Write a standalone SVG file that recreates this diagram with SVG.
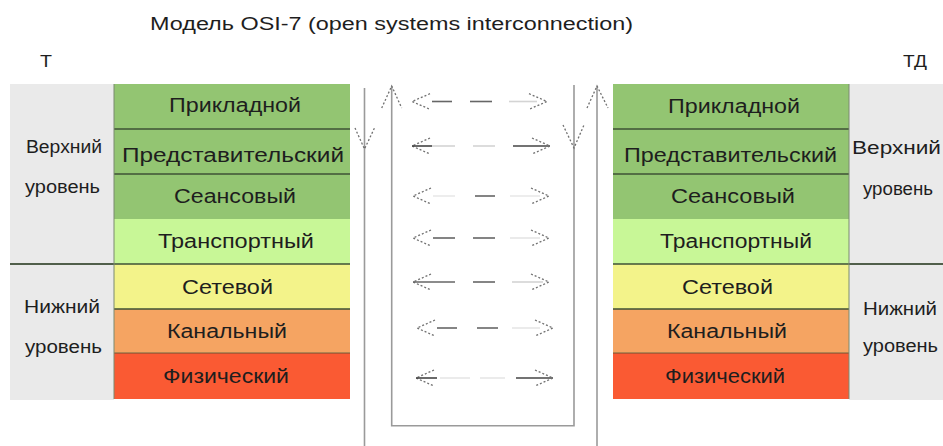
<svg xmlns="http://www.w3.org/2000/svg" width="943" height="446" viewBox="0 0 943 446">
<style>
text{font-family:"Liberation Sans",Arial,sans-serif;fill:#1e1e1e}
.lbl{font-size:20px;text-anchor:middle}
.side{font-size:18px}
.sep{stroke:#3e5136;stroke-width:1.3}
.gsep{stroke:#6a6a6a;stroke-width:1.3}
.vl{stroke:#9a9a9a;stroke-width:1.6;fill:none}
.chev{stroke:#707070;stroke-width:1.3;fill:none;stroke-dasharray:2 2}
.dk{stroke:#666;stroke-width:1.6}
.lt{stroke:#d4d4d4;stroke-width:1.6}
.vd{stroke:#444;stroke-width:1.6}
</style>
<rect width="943" height="446" fill="#ffffff"/>
<g id="title">
<text x="150" y="29.5" font-size="17.5" textLength="483" lengthAdjust="spacingAndGlyphs">Модель OSI-7 (open systems interconnection)</text>
<text x="40" y="67" font-size="16" textLength="12" lengthAdjust="spacingAndGlyphs">Т</text>
<text x="903" y="67" font-size="16" textLength="24" lengthAdjust="spacingAndGlyphs">ТД</text>
</g>
<g id="left-stack">
<rect x="10" y="84" width="104" height="316" fill="#eaeaea"/>
<line class="gsep" x1="10" y1="264" x2="114" y2="264"/>
<text class="side" x="26" y="153" textLength="76" lengthAdjust="spacingAndGlyphs">Верхний</text>
<text class="side" x="25" y="193" textLength="75" lengthAdjust="spacingAndGlyphs">уровень</text>
<text class="side" x="24" y="313" textLength="76" lengthAdjust="spacingAndGlyphs">Нижний</text>
<text class="side" x="25" y="353" textLength="77" lengthAdjust="spacingAndGlyphs">уровень</text>
<rect x="114" y="84" width="236" height="135" fill="#93c572"/>
<rect x="114" y="219" width="236" height="45" fill="#c8f797"/>
<rect x="114" y="264" width="236" height="45" fill="#f3f38a"/>
<rect x="114" y="309" width="236" height="44" fill="#f5a462"/>
<rect x="114" y="353" width="236" height="46" fill="#fa5a33"/>
<line class="sep" x1="114" y1="129" x2="350" y2="129"/>
<line class="sep" x1="114" y1="174" x2="350" y2="174"/>
<line class="sep" x1="10" y1="264" x2="350" y2="264"/>
<line class="sep" x1="114" y1="309" x2="350" y2="309"/>
<line class="sep" x1="114" y1="353" x2="350" y2="353" stroke-opacity="0.5"/>
<line x1="114" y1="84" x2="114" y2="399" stroke="#7a8a70" stroke-width="1"/>
<text class="lbl" x="235" y="112" textLength="132" lengthAdjust="spacingAndGlyphs">Прикладной</text>
<text class="lbl" x="233" y="162" textLength="222" lengthAdjust="spacingAndGlyphs">Представительский</text>
<text class="lbl" x="235" y="203" textLength="122" lengthAdjust="spacingAndGlyphs">Сеансовый</text>
<text class="lbl" x="236" y="248" textLength="156" lengthAdjust="spacingAndGlyphs">Транспортный</text>
<text class="lbl" x="227.5" y="294" textLength="91" lengthAdjust="spacingAndGlyphs">Сетевой</text>
<text class="lbl" x="227" y="338" textLength="120" lengthAdjust="spacingAndGlyphs">Канальный</text>
<text class="lbl" x="226" y="383" textLength="126" lengthAdjust="spacingAndGlyphs">Физический</text>
</g>
<g id="right-stack">
<rect x="849" y="84" width="94" height="316" fill="#eaeaea"/>
<line class="gsep" x1="849" y1="264" x2="943" y2="264"/>
<text class="side" x="852" y="154" textLength="89" lengthAdjust="spacingAndGlyphs">Верхний</text>
<text class="side" x="863" y="195" textLength="70" lengthAdjust="spacingAndGlyphs">уровень</text>
<text class="side" x="863" y="315" textLength="74" lengthAdjust="spacingAndGlyphs">Нижний</text>
<text class="side" x="863" y="352" textLength="75" lengthAdjust="spacingAndGlyphs">уровень</text>
<rect x="613" y="84" width="236" height="135" fill="#93c572"/>
<rect x="613" y="219" width="236" height="45" fill="#c8f797"/>
<rect x="613" y="264" width="236" height="45" fill="#f3f38a"/>
<rect x="613" y="309" width="236" height="44" fill="#f5a462"/>
<rect x="613" y="353" width="236" height="46" fill="#fa5a33"/>
<line class="sep" x1="613" y1="129" x2="849" y2="129"/>
<line class="sep" x1="613" y1="174" x2="849" y2="174"/>
<line class="sep" x1="613" y1="264" x2="943" y2="264"/>
<line class="sep" x1="613" y1="309" x2="849" y2="309"/>
<line class="sep" x1="613" y1="353" x2="849" y2="353" stroke-opacity="0.5"/>
<line x1="849" y1="84" x2="849" y2="399" stroke="#7a8a70" stroke-width="1"/>
<text class="lbl" x="734" y="113" textLength="132" lengthAdjust="spacingAndGlyphs">Прикладной</text>
<text class="lbl" x="730.5" y="162" textLength="213" lengthAdjust="spacingAndGlyphs">Представительский</text>
<text class="lbl" x="733" y="203" textLength="124" lengthAdjust="spacingAndGlyphs">Сеансовый</text>
<text class="lbl" x="736" y="248" textLength="152" lengthAdjust="spacingAndGlyphs">Транспортный</text>
<text class="lbl" x="727.5" y="293.5" textLength="91" lengthAdjust="spacingAndGlyphs">Сетевой</text>
<text class="lbl" x="727" y="338" textLength="120" lengthAdjust="spacingAndGlyphs">Канальный</text>
<text class="lbl" x="725" y="383" textLength="120" lengthAdjust="spacingAndGlyphs">Физический</text>
</g>
<g id="connectors">
<line class="vl" x1="364.5" y1="88" x2="364.5" y2="446"/>
<polyline class="chev" points="355,128 364.5,149 374.5,128"/>
<polyline class="vl" points="391.7,86 391.7,425.7 574,425.7 574,85"/>
<polyline class="chev" points="381.7,108 391.7,86 401.7,108"/>
<polyline class="chev" points="563,125 574,148 584,125"/>
<line class="vl" x1="597" y1="86" x2="597" y2="446"/>
<polyline class="chev" points="587,108 597,86 608,108"/>

<polyline class="chev" points="430,93.7 412,101.5 430,109.3"/>
<line class="dk" x1="432" y1="101.5" x2="452" y2="101.5"/>
<line class="dk" x1="470" y1="101.5" x2="492" y2="101.5"/>
<line class="lt" x1="509" y1="101.5" x2="537" y2="101.5"/>
<polyline class="chev" points="529,93.7 547,101.5 529,109.3"/>

<polyline class="chev" points="430,138 412,146 430,154"/>
<line class="vd" x1="412" y1="146" x2="432" y2="146"/>
<line class="lt" x1="432" y1="146" x2="455" y2="146"/>
<line class="lt" x1="473" y1="146" x2="495" y2="146"/>
<line class="vd" x1="513" y1="146" x2="550" y2="146"/>
<polyline class="chev" points="532,138 550,146 532,154"/>

<polyline class="chev" points="431,188 413,196 431,204"/>
<line class="lt" x1="433" y1="196" x2="455" y2="196" stroke-opacity="0.5"/>
<line class="dk" x1="475" y1="196" x2="495" y2="196"/>
<line class="lt" x1="510" y1="196" x2="540" y2="196" stroke-opacity="0.5"/>
<polyline class="chev" points="531,188 549,196 531,204"/>

<polyline class="chev" points="431,230 413,238 431,246"/>
<line class="dk" x1="433" y1="238" x2="455" y2="238"/>
<line class="dk" x1="473" y1="238" x2="495" y2="238"/>
<line class="lt" x1="510" y1="238" x2="540" y2="238" stroke-opacity="0.6"/>
<polyline class="chev" points="531,230 549,238 531,246"/>

<polyline class="chev" points="431,274 413,282 431,290"/>
<line class="dk" x1="413" y1="282" x2="455" y2="282" stroke="#888"/>
<line class="dk" x1="473" y1="282" x2="495" y2="282"/>
<line class="lt" x1="512" y1="282" x2="543" y2="282"/>
<polyline class="chev" points="531,274 549,282 531,290"/>

<polyline class="chev" points="435,320 417,328 435,336"/>
<line class="dk" x1="437" y1="328" x2="457" y2="328"/>
<line class="dk" x1="477" y1="328" x2="498" y2="328"/>
<line class="lt" x1="512" y1="328" x2="540" y2="328" stroke-opacity="0.6"/>
<polyline class="chev" points="535,320 553,328 535,336"/>

<polyline class="chev" points="434,370 416,378 434,386"/>
<line class="vd" x1="416" y1="378" x2="437" y2="378"/>
<line class="lt" x1="440" y1="378" x2="470" y2="378" stroke-opacity="0.6"/>
<line class="lt" x1="480" y1="378" x2="505" y2="378" stroke-opacity="0.6"/>
<line class="vd" x1="516" y1="378" x2="553" y2="378"/>
<polyline class="chev" points="535,370 553,378 535,386"/>
</g>
</svg>
